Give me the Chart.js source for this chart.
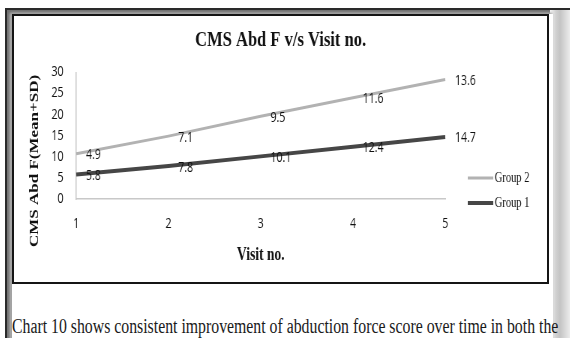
<!DOCTYPE html>
<html>
<head>
<meta charset="utf-8">
<title>CMS Abd F v/s Visit no.</title>
<script src="https://cdn.jsdelivr.net/npm/chart.js"></script>
<style>
  html, body { margin: 0; padding: 0; width: 570px; height: 338px; overflow: hidden; background: #fff; }
  .frame { position: absolute; left: 5px; top: 8px; width: 570px; height: 340px; border-top: 2px solid #2a2a2a; border-left: 2px solid #2a2a2a;
           background: #c8c8c8; box-shadow: inset 3px 3px 3px #707070; }
  .sheet { position: absolute; left: 12px; top: 14px; width: 541px; height: 330px; background: #fff; box-shadow: -1px -1px 2px #999; }
  .edge { position: absolute; left: 550px; top: 10px; width: 20px; height: 330px;
          background: linear-gradient(to right, #f4f4f4, #d0d0d0 30%, #c4c4c4 50%, #ececec); }
  .box { position: absolute; left: 12px; top: 14px; width: 533px; height: 266px; border: 2px solid #151515; background: #fff; overflow: hidden; }
  .box canvas { transform: scaleX(0.75); transform-origin: 0 0; }
  .note { position: absolute; left: 12px; top: 315px; white-space: nowrap; font-family: 'Liberation Serif', serif; font-size: 20px; color: #1a1a1a;
          transform: scaleX(0.79); transform-origin: 0 0; }
</style>
</head>
<body>
<div class="frame"></div>
<div class="edge"></div>
<div class="sheet"></div>
<div class="box"><canvas id="chart" width="711" height="266"></canvas></div>
<div class="note">Chart 10 shows consistent improvement of abduction force score over time in both the</div>

<script>
// values (stacked line: Group 2 sits on top of Group 1)
const visits = ['1', '2', '3', '4', '5'];
const group1 = [5.8, 7.8, 10.1, 12.4, 14.7];
const group2 = [4.9, 7.1, 9.5, 11.6, 13.6];
const yTicks = [0, 5, 10, 15, 20, 25, 30];

const TICK_FONT = { family: "'Open Sans', sans-serif", size: 14 };
const SERIF = "'Liberation Serif', 'Times New Roman', serif";

// value labels to the right of each point
const valueLabels = {
  id: 'valueLabels',
  afterDatasetsDraw(chart) {
    const ctx = chart.ctx;
    ctx.save();
    ctx.font = `${TICK_FONT.size}px ${TICK_FONT.family}`;
    ctx.fillStyle = '#111';
    ctx.textAlign = 'left';
    ctx.textBaseline = 'middle';
    chart.data.datasets.forEach((ds, i) => {
      chart.getDatasetMeta(i).data.forEach((pt, j) => {
        ctx.fillText(String(ds.data[j]), pt.x + 13, pt.y + 1.5);
      });
    });
    ctx.restore();
  }
};

// y title sits a bit lower than the axis middle in the original
const yTitle = {
  id: 'yTitle',
  afterDraw(chart) {
    const ctx = chart.ctx;
    ctx.save();
    ctx.translate(28, 145);
    ctx.rotate(-Math.PI / 2);
    ctx.font = `bold 17px ${SERIF}`;
    ctx.fillStyle = '#111';
    ctx.textAlign = 'center';
    ctx.textBaseline = 'middle';
    ctx.fillText('CMS Abd F(Mean+SD)', 0, 0);
    ctx.restore();
  }
};

// legend on the right, Group 2 first
const sideLegend = {
  id: 'sideLegend',
  afterDraw(chart) {
    const ctx = chart.ctx;
    const items = chart.data.datasets.slice().reverse();
    ctx.save();
    ctx.font = `14px ${SERIF}`;
    ctx.textBaseline = 'middle';
    items.forEach((ds, k) => {
      const y = 162 + k * 25;
      ctx.strokeStyle = ds.borderColor;
      ctx.lineWidth = ds.borderWidth;
      ctx.beginPath();
      ctx.moveTo(605, y);
      ctx.lineTo(639, y);
      ctx.stroke();
      ctx.fillStyle = '#111';
      ctx.fillText(ds.label, 641, y);
    });
    ctx.restore();
  }
};

new Chart(document.getElementById('chart'), {
  type: 'line',
  data: {
    labels: visits,
    datasets: [
      { label: 'Group 1', data: group1, borderColor: '#464646', borderWidth: 4, pointRadius: 0, tension: 0, fill: false },
      { label: 'Group 2', data: group2, borderColor: '#b2b2b2', borderWidth: 3, pointRadius: 0, tension: 0, fill: false }
    ]
  },
  options: {
    responsive: false,
    animation: false,
    layout: { padding: 0 },
    plugins: {
      legend: { display: false },
      tooltip: { enabled: false },
      title: {
        display: true,
        text: 'CMS Abd F v/s Visit no.',
        color: '#111',
        font: { family: SERIF, size: 22, weight: 'bold' },
        padding: { top: 11, bottom: 19 }
      }
    },
    scales: {
      x: {
        offset: false,
        grid: { display: false, drawTicks: false },
        border: { display: true, color: '#c8c8c8', width: 1.5 },
        ticks: { color: '#111', font: TICK_FONT, padding: 17 },
        title: { display: true, text: 'Visit no.', color: '#111', font: { family: SERIF, size: 18, weight: 'bold' }, padding: { top: 0, bottom: 16 } },
        afterFit(scale) { scale.height = 83; }
      },
      y: {
        stacked: true,
        min: yTicks[0],
        max: yTicks[yTicks.length - 1],
        grid: { display: false, drawTicks: false },
        border: { display: true, color: '#c8c8c8', width: 1.5 },
        ticks: { stepSize: 5, color: '#111', font: TICK_FONT, padding: 17 },
        afterFit(scale) { scale.width = 83; }
      },
      // empty right-hand strip that holds the legend
      legendSpace: {
        position: 'right',
        grid: { display: false, drawTicks: false },
        border: { display: false },
        ticks: { display: false },
        afterFit(scale) { scale.width = 136; }
      }
    }
  },
  plugins: [valueLabels, yTitle, sideLegend]
});
</script>
</body>
</html>
